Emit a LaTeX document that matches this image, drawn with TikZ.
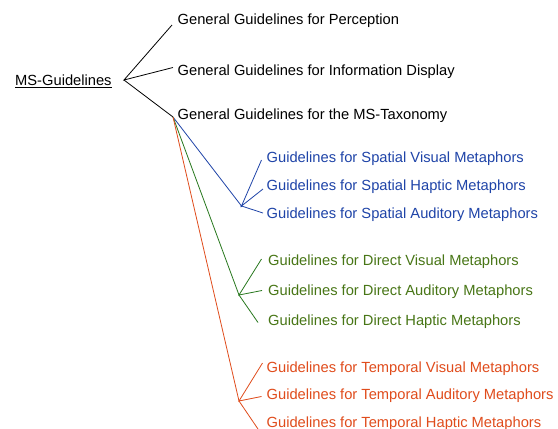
\documentclass[tikz,border=0pt]{standalone}
\usepackage{fontspec}
\setmainfont{Liberation Sans}
\definecolor{blueT}{RGB}{31,68,168}
\definecolor{greenT}{RGB}{72,118,22}
\definecolor{greenL}{RGB}{40,120,30}
\definecolor{redT}{RGB}{224,76,28}
\begin{document}
\begin{tikzpicture}[x=1pt,y=-1pt,
  lbl/.style={anchor=base west,inner sep=0pt,font=\fontsize{14.7}{17}\selectfont},
  conn/.style={line width=0.8pt}]
\useasboundingbox[fill=white] (0,0) rectangle (558,429);
% root
\node[lbl] (root) at (15,85.7) {\underline{MS-Guidelines}};
\coordinate (r) at (124,80);
\node[lbl] (g1) at (177.5,24) {General Guidelines for Perception};
\node[lbl] (g2) at (177.5,75) {General Guidelines for Information Display};
\node[lbl] (g3) at (177.5,119.5) {General Guidelines for the MS-Taxonomy};
\coordinate (e1) at (172,25);
\coordinate (e2) at (173,67.5);
\coordinate (t) at (173,117);
\draw[conn] (e1) -- (r) -- (e2);
\draw[conn] (r) -- (t);
% apexes
\coordinate (ab) at (241.5,206);
\coordinate (ag) at (239,295);
\coordinate (ar) at (239,401);
\draw[conn,blueT] (t) -- (ab);
\draw[conn,greenL] (t) -- (ag);
\draw[conn,redT] (t) -- (ar);
% spatial
\node[lbl,text=blueT] (s1) at (266.5,162.5) {Guidelines for Spatial Visual Metaphors};
\node[lbl,text=blueT] (s2) at (266.5,190) {Guidelines for Spatial Haptic Metaphors};
\node[lbl,text=blueT] (s3) at (266.5,218) {Guidelines for Spatial Auditory Metaphors};
\coordinate (bs1) at (261.5,160);
\coordinate (bs2) at (263,189);
\coordinate (bs3) at (263,213);
\draw[conn,blueT] (bs1) -- (ab) -- (bs2);
\draw[conn,blueT] (ab) -- (bs3);
\fill[blueT] (ab) circle (1.2);
% direct
\node[lbl,text=greenT] (d1) at (268,265) {Guidelines for Direct Visual Metaphors};
\node[lbl,text=greenT] (d2) at (268,295) {Guidelines for Direct Auditory Metaphors};
\node[lbl,text=greenT] (d3) at (268,325) {Guidelines for Direct Haptic Metaphors};
\coordinate (bd1) at (261.5,259);
\coordinate (bd2) at (262,290.5);
\coordinate (bd3) at (258,322.5);
\draw[conn,greenL] (bd1) -- (ag) -- (bd2);
\draw[conn,greenL] (ag) -- (bd3);
% temporal
\node[lbl,text=redT] (p1) at (266.5,372) {Guidelines for Temporal Visual Metaphors};
\node[lbl,text=redT] (p2) at (266.5,399.5) {Guidelines for Temporal Auditory Metaphors};
\node[lbl,text=redT] (p3) at (266.5,427) {Guidelines for Temporal Haptic Metaphors};
\coordinate (br1) at (262.5,363);
\coordinate (br2) at (261.5,396.5);
\coordinate (br3) at (258,429);
\draw[conn,redT] (br1) -- (ar) -- (br2);
\draw[conn,redT] (ar) -- (br3);
\end{tikzpicture}
\end{document}
